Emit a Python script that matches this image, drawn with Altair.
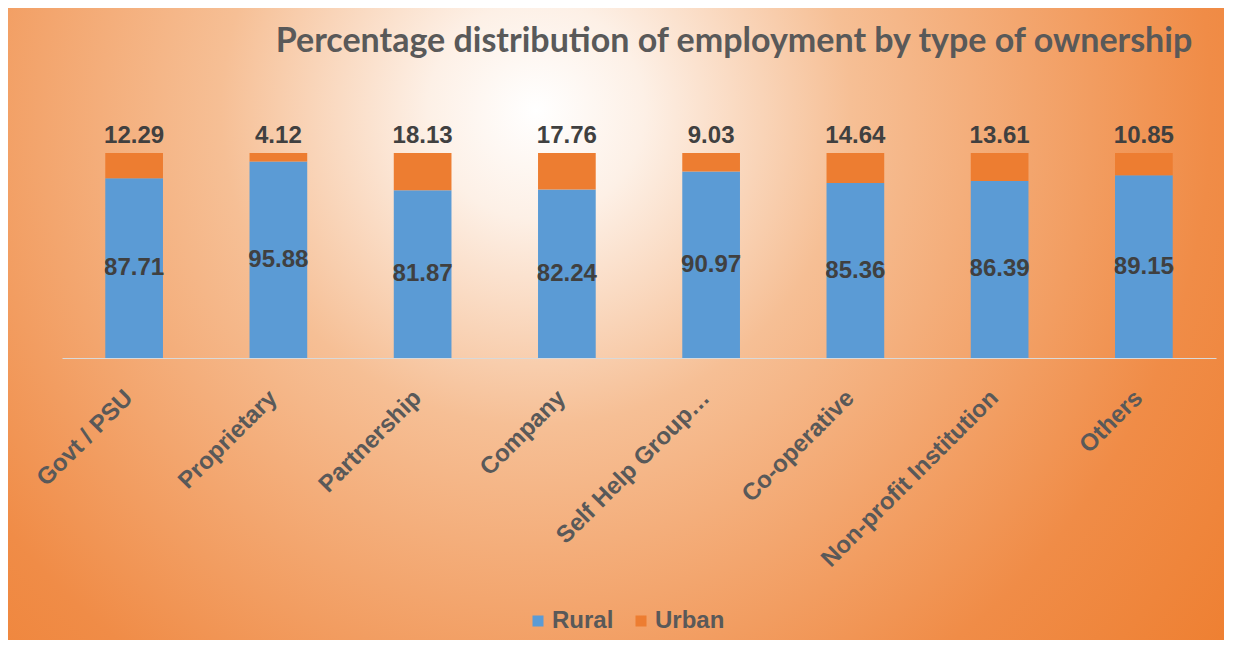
import altair as alt
import pandas as pd

categories = ["Govt / PSU", "Proprietary", "Partnership", "Company",
              "Self Help Group…", "Co-operative", "Non-profit Institution", "Others"]
rural = [87.71, 95.88, 81.87, 82.24, 90.97, 85.36, 86.39, 89.15]
urban = [12.29, 4.12, 18.13, 17.76, 9.03, 14.64, 13.61, 10.85]
series = ["Rural", "Urban"]
colors = ["#5B9BD5", "#ED7D31"]
title_text = "Percentage distribution of employment by type of ownership"

rows = []
for i, c in enumerate(categories):
    rows.append({"category": c, "series": "Rural", "value": rural[i], "order": 0})
    rows.append({"category": c, "series": "Urban", "value": urban[i], "order": 1})
df = pd.DataFrame(rows)

W, H = 1154, 205
PAD = {"left": 54, "top": 145, "right": 8, "bottom": 282}
LABEL_FONT = "Liberation Sans"

x_enc = alt.X(
    "category:N", sort=categories,
    scale=alt.Scale(paddingInner=0.6, paddingOuter=0.3),
    axis=alt.Axis(title=None, labelAngle=-45, labelAlign="right", labelBaseline="middle",
                  labelPadding=36, labelOffset=-5, labelLimit=0, ticks=False,
                  labelFont=LABEL_FONT, labelFontSize=24, labelFontWeight="bold",
                  labelColor="#595959", domainColor="#D9D9D9", domainWidth=1, zindex=1),
)

bg = alt.Chart(pd.DataFrame({"bg": [0]})).mark_rect(
    fill=alt.Gradient(
        gradient="radial",
        stops=[
            alt.GradientStop(offset=0, color="#FFFFFF"),
            alt.GradientStop(offset=0.12, color="#FDF0E6"),
            alt.GradientStop(offset=0.35, color="#F6BF95"),
            alt.GradientStop(offset=0.75, color="#F08C47"),
            alt.GradientStop(offset=1, color="#EE7E2F"),
        ],
        x1=0.455, y1=0.057, x2=0.455, y2=0.057, r1=0, r2=0.5,
    )
).encode(x=alt.value(-54), x2=alt.value(1164), y=alt.value(-145), y2=alt.value(1655))

bars = alt.Chart(df).mark_bar().encode(
    x=x_enc,
    y=alt.Y("value:Q", stack="zero", scale=alt.Scale(domain=[0, 100], nice=False), axis=None),
    color=alt.Color(
        "series:N", scale=alt.Scale(domain=series, range=colors),
        legend=alt.Legend(title=None, orient="none", legendX=464, legendY=456,
                          direction="horizontal", symbolType="square", symbolSize=121,
                          symbolStrokeWidth=0, labelFont=LABEL_FONT, labelFontSize=24,
                          labelFontWeight="bold", labelColor="#595959",
                          columnPadding=15, labelOffset=2),
    ),
    order=alt.Order("order:Q"),
)

urban_text = alt.Chart(df).transform_joinaggregate(
    total="sum(value)", groupby=["category"]
).transform_filter(alt.datum.series == "Urban").mark_text(
    font=LABEL_FONT, fontSize=24, fontWeight="bold", color="#404040",
    baseline="alphabetic", dy=-10,
).encode(x=x_enc, y=alt.Y("total:Q"), text=alt.Text("value:Q", format=".2f"))

rural_text = alt.Chart(df).transform_filter(alt.datum.series == "Rural").transform_calculate(
    mid="datum.value / 2"
).mark_text(
    font=LABEL_FONT, fontSize=24, fontWeight="bold", color="#404040", baseline="middle",
).encode(x=x_enc, y=alt.Y("mid:Q"), text=alt.Text("value:Q", format=".2f"))

title = alt.Chart(pd.DataFrame({"t": [title_text]})).mark_text(
    font="Lato", fontSize=34, fontWeight="bold", color="#595959",
    align="center", baseline="alphabetic",
).encode(text="t:N", x=alt.value(672), y=alt.value(-101))

chart = alt.layer(bg, bars, urban_text, rural_text, title).properties(
    width=W, height=H, padding=PAD, autosize="none"
).configure_view(stroke=None)

chart.save("out.html", embed_options={"renderer": "svg", "actions": False})
